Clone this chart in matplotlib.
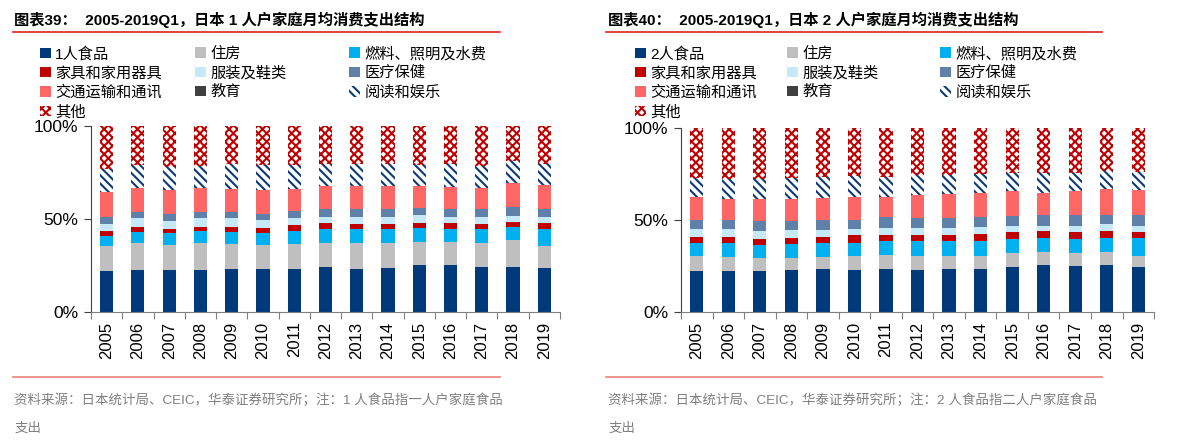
import numpy as np
import matplotlib.pyplot as plt
from matplotlib.patches import Patch
from matplotlib.lines import Line2D

plt.rcParams['font.family'] = ['Liberation Sans', 'Noto Sans CJK SC']
plt.rcParams['hatch.linewidth'] = 1.5

years = [str(y) for y in range(2005, 2020)]

# 1-person households, share of monthly spending (%)
food_1 = [21.9, 22.4, 22.2, 22.6, 22.8, 22.8, 22.9, 23.8, 23.1, 23.7, 24.9, 24.9, 24.2, 24.2, 23.7]
housing_1 = [13.4, 14.3, 13.6, 14.1, 13.4, 13.0, 13.7, 13.3, 13.8, 13.2, 12.7, 12.7, 12.9, 14.2, 11.6]
fuel_1 = [5.6, 6.3, 6.3, 6.5, 6.5, 6.5, 6.6, 7.3, 7.4, 7.4, 7.2, 6.8, 7.2, 7.3, 9.3]
furniture_1 = [2.3, 2.5, 2.5, 2.3, 3.0, 2.9, 3.2, 3.1, 3.0, 2.8, 2.9, 3.3, 3.0, 2.7, 2.9]
clothing_1 = [4.1, 4.7, 4.3, 4.7, 4.5, 3.9, 4.0, 3.6, 3.6, 4.0, 4.1, 3.4, 3.4, 3.2, 3.6]
medical_1 = [3.4, 3.6, 3.6, 3.6, 3.6, 3.6, 3.7, 4.3, 4.3, 4.1, 4.1, 4.3, 4.3, 4.5, 4.3]
transport_1 = [13.8, 12.5, 12.9, 12.5, 12.3, 12.7, 12.0, 12.2, 12.4, 12.4, 11.7, 11.6, 11.7, 13.1, 12.9]
education_1 = [0] * 15
reading_1 = [12.2, 12.6, 12.6, 12.2, 13.6, 13.3, 12.6, 12.1, 12.1, 12.1, 11.3, 12.7, 11.6, 12.0, 11.4]
other_1 = [23.3, 21.1, 22.0, 21.5, 20.3, 21.3, 21.3, 20.3, 20.3, 20.3, 21.1, 20.3, 21.7, 18.8, 20.3]

# 2-person households
food_2 = [22.2, 22.4, 22.4, 22.7, 23.1, 22.7, 23.1, 22.9, 23.3, 23.5, 24.4, 25.5, 25.1, 25.5, 24.4]
housing_2 = [8.2, 7.6, 6.9, 6.6, 6.7, 7.7, 7.8, 7.6, 7.2, 7.0, 7.4, 7.0, 6.9, 6.9, 6.1]
fuel_2 = [6.9, 7.3, 7.1, 7.6, 7.5, 7.2, 7.5, 7.9, 7.9, 8.0, 7.8, 7.7, 7.8, 8.0, 9.9]
furniture_2 = [3.4, 3.4, 3.2, 3.3, 3.4, 3.9, 3.6, 3.4, 3.4, 3.9, 3.7, 3.6, 3.7, 3.6, 3.1]
clothing_2 = [4.4, 4.2, 4.2, 4.2, 3.8, 3.6, 3.8, 3.8, 4.0, 3.8, 3.4, 3.1, 3.4, 3.5, 3.2]
medical_2 = [5.1, 5.3, 5.5, 5.1, 5.5, 5.1, 5.5, 5.5, 5.3, 5.1, 5.5, 5.5, 5.5, 5.4, 5.7]
transport_2 = [12.0, 11.4, 11.8, 11.8, 12.0, 12.2, 11.4, 12.5, 12.9, 13.1, 13.3, 12.5, 13.2, 13.8, 13.8]
education_2 = [0] * 15
reading_2 = [10.5, 10.8, 10.9, 11.6, 11.5, 11.4, 10.9, 10.8, 10.4, 10.7, 10.1, 10.7, 10.0, 9.7, 9.8]
other_2 = [27.3, 27.6, 28.0, 27.1, 26.5, 26.2, 26.4, 25.6, 25.6, 24.9, 24.4, 24.4, 24.4, 23.6, 24.0]

labels = ['人食品', '住房', '燃料、照明及水费', '家具和家用器具', '服装及鞋类',
          '医疗保健', '交通运输和通讯', '教育', '阅读和娱乐', '其他']
# (facecolor, edgecolor/hatch color, hatch)
styles = [('#003a7a', 'none', None), ('#bfbfbf', 'none', None), ('#00b0f0', 'none', None),
          ('#c00000', 'none', None), ('#c5e9f8', 'none', None), ('#5f80a8', 'none', None),
          ('#ff6666', 'none', None), ('#404040', 'none', None),
          ('white', '#0b3a78', '\\\\\\\\'), ('white', '#c00000', 'xxxx')]


def handle(st):
    fc, ec, h = st
    return Patch(facecolor=fc, edgecolor=ec, hatch=h, lw=0)


def panel(ax, parts):
    x = np.arange(len(years))
    bottom = np.zeros(len(years))
    for vals, (fc, ec, h) in zip(parts, styles):
        ax.bar(x, vals, 0.42, bottom=bottom, color=fc, edgecolor=ec, hatch=h, lw=0)
        bottom += np.array(vals)
    ax.set_xlim(-0.5, len(years) - 0.5)
    ax.set_ylim(0, 100)
    ax.set_yticks([0, 50, 100])
    ax.set_yticklabels(['0%', '50%', '100%'], fontsize=12.5)
    ax.set_xticks(np.arange(len(years) + 1) - 0.5)
    ax.set_xticklabels([])
    ax.set_xticks(x, minor=True)
    ax.set_xticklabels(years, minor=True, rotation=90, fontsize=12)
    ax.tick_params(axis='x', which='major', length=5, color='#808080')
    ax.tick_params(axis='x', which='minor', length=0, pad=7)
    ax.tick_params(axis='y', length=5, color='#404040', pad=4)
    for s in ['top', 'right']:
        ax.spines[s].set_visible(False)
    ax.spines['left'].set_color('#404040')
    ax.spines['bottom'].set_color('#808080')


fig = plt.figure(figsize=(11.9, 4.48), dpi=100)
ax1 = fig.add_axes([0.0765, 0.3042, 0.394, 0.415])
ax2 = fig.add_axes([0.5723, 0.3042, 0.3975, 0.410])

panel(ax1, [food_1, housing_1, fuel_1, furniture_1, clothing_1, medical_1,
            transport_1, education_1, reading_1, other_1])
panel(ax2, [food_2, housing_2, fuel_2, furniture_2, clothing_2, medical_2,
            transport_2, education_2, reading_2, other_2])

# legends, three columns each (row-wise order)
cols = [[0, 3, 6, 9], [1, 4, 7], [2, 5, 8]]
for n, xs in [('1', [0.0336, 0.1639, 0.2933]), ('2', [0.5336, 0.6613, 0.7899])]:
    for c, x0 in zip(cols, xs):
        hs = [handle(styles[i]) for i in c]
        ls = [(n + labels[i]) if i == 0 else labels[i] for i in c]
        fig.legend(hs, ls, loc='upper left', bbox_to_anchor=(x0, 0.896),
                   frameon=False, fontsize=11, borderpad=0, borderaxespad=0,
                   handlelength=0.7, handleheight=0.7, handletextpad=0.3,
                   labelspacing=0.33)

# titles and rules
fig.text(0.012, 0.955, '图表39：  2005-2019Q1，日本 1 人户家庭月均消费支出结构',
         fontsize=11, fontweight='bold', va='center')
fig.text(0.511, 0.955, '图表40：  2005-2019Q1，日本 2 人户家庭月均消费支出结构',
         fontsize=11, fontweight='bold', va='center')
for x0, x1 in [(13, 500), (606, 1102)]:
    fig.add_artist(Line2D([x0 / 1190, x1 / 1190], [1 - 32 / 448] * 2,
                          transform=fig.transFigure, color='#e02020', lw=1.2))
    fig.add_artist(Line2D([x0 / 1190, x1 / 1190], [1 - 377 / 448] * 2,
                          transform=fig.transFigure, color='#f08078', lw=1.2))

fig.text(0.012, 1 - 400 / 448, '资料来源：日本统计局、CEIC，华泰证券研究所；注：1 人食品指一人户家庭食品',
         fontsize=9.7, color='#808080', va='center')
fig.text(0.012, 1 - 429 / 448, '支出', fontsize=9.7, color='#808080', va='center')
fig.text(0.511, 1 - 400 / 448, '资料来源：日本统计局、CEIC，华泰证券研究所；注：2 人食品指二人户家庭食品',
         fontsize=9.7, color='#808080', va='center')
fig.text(0.511, 1 - 429 / 448, '支出', fontsize=9.7, color='#808080', va='center')

fig.savefig('out.png', dpi=100)
